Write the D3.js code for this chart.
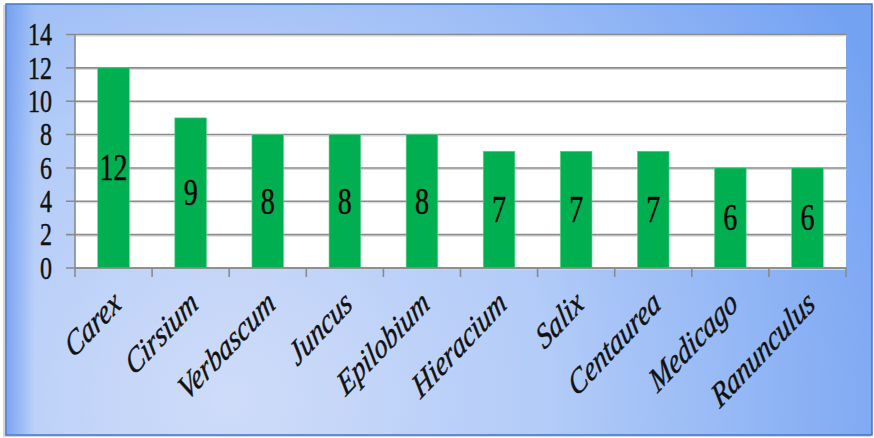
<!DOCTYPE html>
<html>
<head>
<meta charset="utf-8">
<script src="https://cdn.jsdelivr.net/npm/d3@7"></script>
<style>
  html, body { margin: 0; padding: 0; background: #fff; }
  svg { display: block; }
  text { font-family: "Liberation Serif", "Times New Roman", serif; stroke: #111; stroke-width: 0.35px; }
</style>
</head>
<body>
<script>
var genera = ["Carex", "Cirsium", "Verbascum", "Juncus", "Epilobium", "Hieracium", "Salix", "Centaurea", "Medicago", "Ranunculus"];
var counts = [12, 9, 8, 8, 8, 7, 7, 7, 6, 6];
var yTicks = [0, 2, 4, 6, 8, 10, 12, 14];

var W = 874, H = 438,
    plotL = 75, plotR = 846, plotT = 34.5, plotB = 268,
    stretch = 1.35;

var svg = d3.select("body").append("svg")
    .attr("width", W)
    .attr("height", H);

var defs = svg.append("defs");
var bg = defs.append("radialGradient")
    .attr("id", "bgGrad")
    .attr("gradientUnits", "userSpaceOnUse")
    .attr("cx", 230).attr("cy", 400).attr("r", 720);
bg.append("stop").attr("offset", "0%").attr("stop-color", "#cfdcf9");
bg.append("stop").attr("offset", "45%").attr("stop-color", "#b2cbf8");
bg.append("stop").attr("offset", "100%").attr("stop-color", "#74a2f2");

var edge = defs.append("linearGradient").attr("id", "edgeGrad");
edge.append("stop").attr("offset", "0%").attr("stop-color", "#6d9bf0").attr("stop-opacity", 0.8);
edge.append("stop").attr("offset", "100%").attr("stop-color", "#6d9bf0").attr("stop-opacity", 0);

// frame shadow + background
svg.append("rect")
    .attr("x", 3).attr("y", 5).attr("width", 868).attr("height", 432)
    .attr("fill", "#d6d6d6");
svg.append("rect")
    .attr("x", 6).attr("y", 4).attr("width", 866).attr("height", 431)
    .attr("fill", "url(#bgGrad)")
    .attr("stroke", "#3e74c6")
    .attr("stroke-width", 1.5);
svg.append("rect")
    .attr("x", 7).attr("y", 5).attr("width", 28).attr("height", 429)
    .attr("fill", "url(#edgeGrad)");

var x = d3.scaleBand().domain(genera).range([plotL, plotR]).padding(0);
var y = d3.scaleLinear().domain([0, 14]).range([plotB, plotT]);
var barW = x.bandwidth() * 0.41;

// plot area
svg.append("rect")
    .attr("x", plotL).attr("y", plotT)
    .attr("width", plotR - plotL).attr("height", plotB - plotT)
    .attr("fill", "#fff");

// gridlines with soft shadow
var grid = svg.append("g");
grid.selectAll("line.shade")
    .data(yTicks)
    .join("line")
    .attr("class", "shade")
    .attr("x1", plotL).attr("x2", plotR + 1)
    .attr("y1", function(d) { return y(d) + 1.5; })
    .attr("y2", function(d) { return y(d) + 1.5; })
    .attr("stroke", "#d4d4d4").attr("stroke-width", 1);
grid.selectAll("line.main")
    .data(yTicks)
    .join("line")
    .attr("class", "main")
    .attr("x1", plotL - 9).attr("x2", plotR + 1)
    .attr("y1", function(d) { return y(d); })
    .attr("y2", function(d) { return y(d); })
    .attr("stroke", "#8a8a8a").attr("stroke-width", 1.6);

// y axis line
svg.append("line")
    .attr("x1", plotL).attr("x2", plotL)
    .attr("y1", plotT).attr("y2", plotB)
    .attr("stroke", "#8a8a8a").attr("stroke-width", 1.6);

// y tick labels
svg.append("g").selectAll("text")
    .data(yTicks)
    .join("text")
    .attr("transform", function(d) { return "translate(52," + y(d) + ") scale(1," + stretch + ")"; })
    .attr("dy", "0.33em")
    .attr("text-anchor", "end")
    .attr("font-size", 24)
    .attr("fill", "#111")
    .text(function(d) { return d; });

// bars
var bars = svg.append("g");
bars.selectAll("rect")
    .data(genera)
    .join("rect")
    .attr("x", function(d) { return x(d) + (x.bandwidth() - barW) / 2; })
    .attr("y", function(d, i) { return y(counts[i]); })
    .attr("width", barW)
    .attr("height", function(d, i) { return plotB - y(counts[i]); })
    .attr("fill", "#00b050")
    .attr("stroke", "#5fcf8a")
    .attr("stroke-width", 0.6);

// value labels centred in the bars
bars.selectAll("text")
    .data(genera)
    .join("text")
    .attr("transform", function(d, i) {
        var cy = (y(counts[i]) + plotB) / 2;
        return "translate(" + (x(d) + x.bandwidth() / 2) + "," + cy + ") scale(1," + stretch + ")";
    })
    .attr("dy", "0.33em")
    .attr("text-anchor", "middle")
    .attr("font-size", 28)
    .attr("fill", "#000")
    .text(function(d, i) { return counts[i]; });

// x axis line and ticks at band edges
var xa = svg.append("g");
xa.append("line")
    .attr("x1", plotL).attr("x2", plotR)
    .attr("y1", plotB).attr("y2", plotB)
    .attr("stroke", "#8a8a8a").attr("stroke-width", 1.6);
var edges = genera.map(function(g) { return x(g); }).concat([plotR]);
xa.selectAll("line.tick")
    .data(edges)
    .join("line")
    .attr("class", "tick")
    .attr("x1", function(d) { return d; }).attr("x2", function(d) { return d; })
    .attr("y1", plotB).attr("y2", plotB + 9)
    .attr("stroke", "#8a8a8a").attr("stroke-width", 1.6);

// category labels
xa.selectAll("text")
    .data(genera)
    .join("text")
    .attr("transform", function(d) {
        return "translate(" + (x(d) + x.bandwidth() / 2 + 9) + ",307) scale(1," + stretch + ") rotate(-38)";
    })
    .attr("text-anchor", "end")
    .attr("font-style", "italic")
    .attr("font-size", 26)
    .attr("fill", "#111")
    .text(function(d) { return d; });
</script>
</body>
</html>
